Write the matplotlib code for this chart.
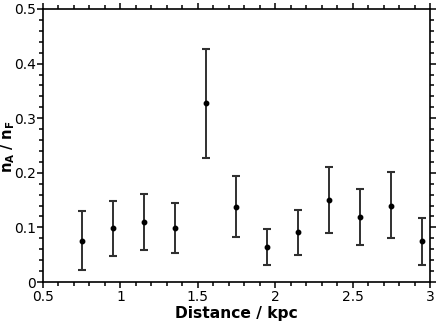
import matplotlib
matplotlib.use("Agg")
import matplotlib.pyplot as plt
from matplotlib.ticker import MultipleLocator, FixedFormatter, FixedLocator

# ---- data ----
distance = [0.75, 0.95, 1.15, 1.35, 1.55, 1.75, 1.95, 2.15, 2.35, 2.55, 2.75, 2.95]
ratio = [0.076, 0.099, 0.110, 0.099, 0.327, 0.138, 0.064, 0.091, 0.150, 0.119, 0.140, 0.075]
upper = [0.130, 0.149, 0.161, 0.145, 0.427, 0.194, 0.097, 0.132, 0.210, 0.170, 0.202, 0.118]
lower = [0.022, 0.048, 0.059, 0.054, 0.227, 0.083, 0.031, 0.050, 0.089, 0.067, 0.080, 0.031]
xtick_labels = ["0.5", "1", "1.5", "2", "2.5", "3"]
ytick_labels = ["0", "0.1", "0.2", "0.3", "0.4", "0.5"]

plt.rcParams["font.family"] = "DejaVu Sans"
plt.rcParams["mathtext.fontset"] = "dejavusans"

fig = plt.figure(figsize=(4.36, 3.27), dpi=100)
ax = fig.add_axes([0.0986, 0.1376, 0.8876, 0.8349])

yerr = [[r - l for r, l in zip(ratio, lower)], [u - r for r, u in zip(ratio, upper)]]
ax.errorbar(distance, ratio, yerr=yerr, fmt="o", color="black", ecolor="#303030",
            elinewidth=1.4, capsize=2.6, capthick=1.5, markersize=3.2)

ax.set_xlim(0.5, 3.0)
ax.set_ylim(0, 0.5)
xt = [0.5, 1.0, 1.5, 2.0, 2.5, 3.0]
yt = [0, 0.1, 0.2, 0.3, 0.4, 0.5]
ax.xaxis.set_major_locator(FixedLocator(xt))
ax.xaxis.set_major_formatter(FixedFormatter(xtick_labels))
ax.yaxis.set_major_locator(FixedLocator(yt))
ax.yaxis.set_major_formatter(FixedFormatter(ytick_labels))
ax.xaxis.set_minor_locator(MultipleLocator(0.1))
ax.yaxis.set_minor_locator(MultipleLocator(0.02))

ax.tick_params(which="both", direction="out", top=True, right=True, width=1.1,
               labelsize=10, pad=1)
ax.tick_params(axis="x", which="both", pad=2)
ax.tick_params(which="major", length=4)
ax.tick_params(which="minor", length=2.8)
for s in ax.spines.values():
    s.set_linewidth(1.2)

ax.set_xlabel("Distance / kpc", fontsize=11.2, fontweight="bold", labelpad=1)
ax.set_ylabel(r"$\mathbf{n_A\ /\ n_F}$", fontsize=10.5)
ax.yaxis.set_label_coords(-0.066, 0.497)

fig.savefig("out.png", dpi=100)
